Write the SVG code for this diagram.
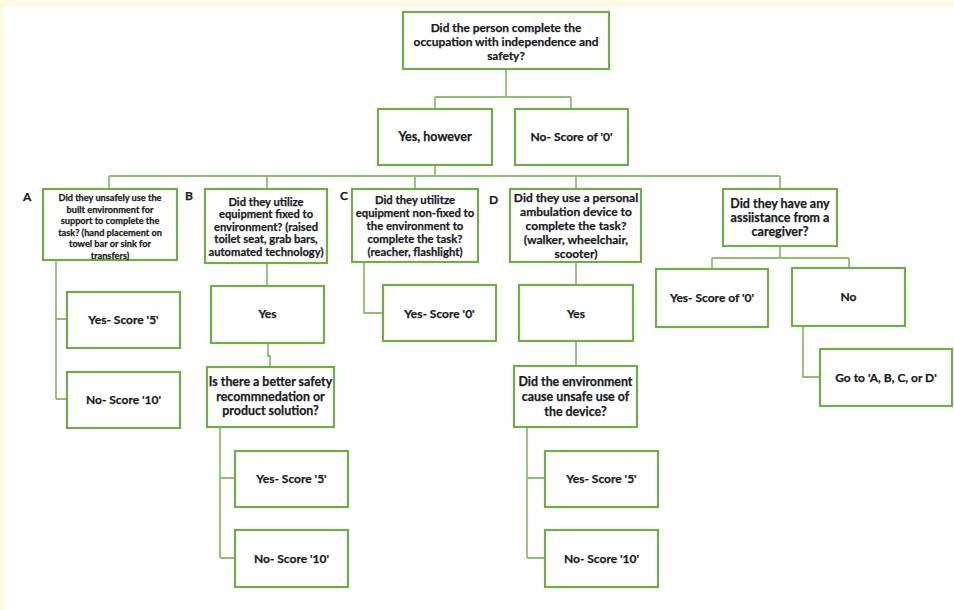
<svg xmlns="http://www.w3.org/2000/svg" width="954" height="610" viewBox="0 0 954 610">
<style>
.box{fill:#fff;stroke:#70AD47;stroke-width:2.2}
.con{fill:none;stroke:#8FC06F;stroke-width:1.8}
text{font-family:Lato,"Noto Sans","Liberation Sans",sans-serif;font-weight:700;fill:#1b1b24;stroke:#1b1b24;stroke-width:0.25;text-anchor:middle;dominant-baseline:central}
.sT{font-size:11.9px}.sA{font-size:9.2px}.sB{font-size:11.2px}.sC{font-size:11.3px}.sD{font-size:12px}.sS{font-size:12px}.sQ{font-size:12.4px}.sE{font-size:12.5px}
.lbl{font-size:12px;text-anchor:start}
</style>
<rect x="0" y="0" width="954" height="610" fill="#fff"/>
<rect x="0" y="0" width="954" height="7" fill="#FFFAE6"/>
<rect x="0" y="0" width="3" height="610" fill="#FFFAE6"/>
<g id="connectors">
<path class="con" d="M506,69V97M435,97H571M435,97V109M571,97V109"/>
<path class="con" d="M435,165V176M109,176H780M109,176V189M267,176V189M415,176V189M576,176V189M780,176V189"/>
<path class="con" d="M56,260V399M56,319H67M56,399H67"/>
<path class="con" d="M267,263V286M268,343V356H270V367M220,427V558M220,478H235M220,558H235"/>
<path class="con" d="M364,262V313H383"/>
<path class="con" d="M576,262V285M576,341V366M527,427V558M527,478H545M527,558H545"/>
<path class="con" d="M780,246V258M712,258H849M712,258V269M849,258V268M803,326V377H820"/>
</g>
<g id="q0"><rect class="box" x="403" y="12" width="206" height="57"/>
<text class="sT" x="506" y="27">Did the person complete the</text>
<text class="sT" x="506" y="41">occupation with independence and</text>
<text class="sT" x="506" y="55">safety?</text></g>
<g id="yes_however"><rect class="box" x="378" y="109" width="114" height="56"/><text class="sE" x="435" y="136">Yes, however</text></g>
<g id="no0"><rect class="box" x="515" y="109" width="113" height="56"/><text class="sS" x="571.5" y="136">No- Score of '0'</text></g>
<g id="A"><text class="lbl" x="23" y="196">A</text><rect class="box" x="43" y="189" width="134" height="71"/>
<text class="sA" x="110" y="197.5">Did they unsafely use the</text>
<text class="sA" x="110" y="209">built environment for</text>
<text class="sA" x="110" y="220.5">support to complete the</text>
<text class="sA" x="110" y="232">task? (hand placement on</text>
<text class="sA" x="110" y="243.5">towel bar or sink for</text>
<text class="sA" x="110" y="255">transfers)</text></g>
<g id="A_yes"><rect class="box" x="67" y="292" width="113" height="56"/><text class="sS" x="123.5" y="319">Yes- Score '5'</text></g>
<g id="A_no"><rect class="box" x="67" y="372" width="113" height="56"/><text class="sS" x="123.5" y="399">No- Score '10'</text></g>
<g id="B"><text class="lbl" x="185" y="195">B</text><rect class="box" x="205" y="189" width="122" height="74"/>
<text class="sB" x="266" y="201">Did they utilize</text>
<text class="sB" x="266" y="213.5">equipment fixed to</text>
<text class="sB" x="266" y="226">environment? (raised</text>
<text class="sB" x="266" y="238.5">toilet seat, grab bars,</text>
<text class="sB" x="266" y="251">automated technology)</text></g>
<g id="B_yes"><rect class="box" x="211" y="286" width="113" height="57"/><text class="sS" x="267.5" y="313">Yes</text></g>
<g id="B_q"><rect class="box" x="207" y="367" width="127" height="60"/>
<text class="sQ" x="270.5" y="381">Is there a better safety</text>
<text class="sQ" x="270.5" y="396">recommnedation or</text>
<text class="sQ" x="270.5" y="410">product solution?</text></g>
<g id="B_yes5"><rect class="box" x="235" y="451" width="113" height="56"/><text class="sS" x="291.5" y="478">Yes- Score '5'</text></g>
<g id="B_no10"><rect class="box" x="235" y="530" width="113" height="57"/><text class="sS" x="291.5" y="558">No- Score '10'</text></g>
<g id="C"><text class="lbl" x="340" y="195">C</text><rect class="box" x="352" y="189" width="126" height="73"/>
<text class="sC" x="415" y="199">Did they utilitze</text>
<text class="sC" x="415" y="212">equipment non-fixed to</text>
<text class="sC" x="415" y="225">the environment to</text>
<text class="sC" x="415" y="238">complete the task?</text>
<text class="sC" x="415" y="251">(reacher, flashlight)</text></g>
<g id="C_yes0"><rect class="box" x="383" y="285" width="113" height="56"/><text class="sS" x="439.5" y="313">Yes- Score '0'</text></g>
<g id="D"><text class="lbl" x="489" y="199">D</text><rect class="box" x="510" y="189" width="131" height="73"/>
<text class="sD" x="576" y="197">Did they use a personal</text>
<text class="sD" x="576" y="211">ambulation device to</text>
<text class="sD" x="576" y="225">complete the task?</text>
<text class="sD" x="576" y="239">(walker, wheelchair,</text>
<text class="sD" x="576" y="253">scooter)</text></g>
<g id="D_yes"><rect class="box" x="519" y="285" width="114" height="56"/><text class="sS" x="576" y="313">Yes</text></g>
<g id="D_q"><rect class="box" x="514" y="366" width="123" height="61"/>
<text class="sQ" x="575.5" y="381">Did the environment</text>
<text class="sQ" x="575.5" y="396">cause unsafe use of</text>
<text class="sQ" x="575.5" y="411">the device?</text></g>
<g id="D_yes5"><rect class="box" x="545" y="451" width="113" height="56"/><text class="sS" x="601.5" y="478">Yes- Score '5'</text></g>
<g id="D_no10"><rect class="box" x="545" y="530" width="113" height="57"/><text class="sS" x="601.5" y="558">No- Score '10'</text></g>
<g id="E"><rect class="box" x="723" y="189" width="114" height="57"/>
<text class="sE" x="780" y="203">Did they have any</text>
<text class="sE" x="780" y="217">assiistance from a</text>
<text class="sE" x="780" y="231">caregiver?</text></g>
<g id="E_yes0"><rect class="box" x="656" y="269" width="112" height="58"/><text class="sS" x="712" y="297">Yes- Score of '0'</text></g>
<g id="E_no"><rect class="box" x="792" y="268" width="113" height="58"/><text class="sS" x="848.5" y="296">No</text></g>
<g id="E_go"><rect class="box" x="820" y="349" width="132" height="57"/><text class="sS" x="886" y="377">Go to 'A, B, C, or D'</text></g>
</svg>
